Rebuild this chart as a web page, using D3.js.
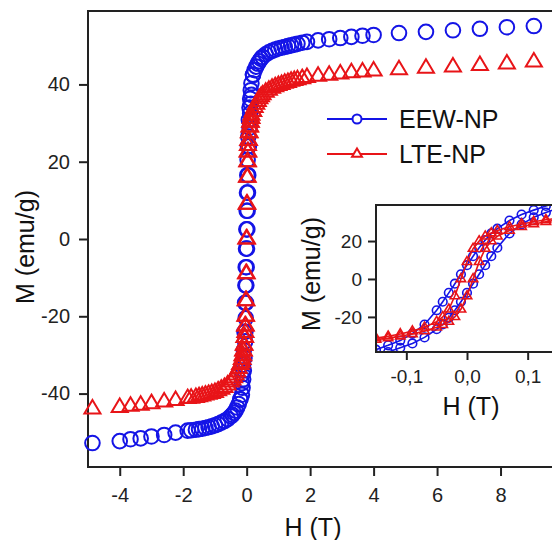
<!DOCTYPE html>
<html>
<head>
<meta charset="utf-8">
<script src="https://cdn.jsdelivr.net/npm/d3@7/dist/d3.min.js"></script>
<style>
  html, body { margin: 0; padding: 0; background: #fff; }
  svg { display: block; font-family: "Liberation Sans", Arial, sans-serif; }
</style>
</head>
<body>
<div id="chart"></div>
<script>
// data +++++++++++++++++++++++++++++++++++++++++
// field (T) of the descending branch, from +H max to -H max
const fieldDown = [9.05, 8.2, 7.35, 6.5, 5.65, 4.8, 4.0, 3.65, 3.3, 2.95, 2.6, 2.25, 1.9, 1.75, 1.6, 1.5, 1.4, 1.3, 1.2, 1.1, 1.0, 0.9, 0.8, 0.7, 0.6, 0.5, 0.45, 0.4, 0.35, 0.3, 0.25, 0.2,
  0.15, 0.13, 0.11, 0.09, 0.07, 0.05, 0.04, 0.03, 0.02, 0.01, 0, -0.01, -0.02, -0.03, -0.04, -0.05, -0.07, -0.09, -0.11, -0.13, -0.15,
  -0.2, -0.25, -0.3, -0.35, -0.4, -0.45, -0.5, -0.6, -0.7, -0.8, -0.9, -1.0, -1.1, -1.2, -1.3, -1.4, -1.5, -1.6, -1.75, -1.86, -2.24, -2.6, -3.0, -3.34, -3.66, -4.0, -4.86];
// field (T) of the ascending branch near zero
const fieldUp = [-0.2, -0.15, -0.13, -0.11, -0.09, -0.07, -0.05, -0.04, -0.03, -0.02, -0.01, 0, 0.01, 0.02, 0.03, 0.04, 0.05, 0.07, 0.09, 0.11, 0.13, 0.15, 0.2];

// magnetisation (emu/g)
const eewDown = [55.1, 54.8, 54.4, 54.0, 53.6, 53.3, 52.8, 52.6, 52.3, 52.0, 51.7, 51.4, 51.0, 50.8, 50.5, 50.3, 50.1, 49.9, 49.7, 49.5, 49.3, 49.0, 48.7, 48.3, 47.8, 47.1, 46.6, 46.0, 45.4, 44.6, 43.7, 42.5,
  40.3, 38.5, 36.3, 34.0, 30.8, 26.5, 24.0, 20.5, 16.5, 12.0, 7.3, 2.5, -2.5, -7.3, -12.0, -16.5, -24.0, -28.8, -32.5, -35.0, -37.3,
  -41.5, -42.7, -43.6, -44.4, -45.0, -45.5, -45.9, -46.6, -47.1, -47.5, -47.9, -48.2, -48.5, -48.7, -48.9, -49.1, -49.2, -49.35, -49.5, -49.6, -50.1, -50.7, -51.1, -51.6, -51.8, -52.3, -52.8];
const eewUp = [-41.5, -40.3, -38.5, -36.3, -34.0, -30.8, -26.5, -24.0, -20.5, -16.5, -12.0, -7.3, -2.5, 2.5, 7.3, 12.0, 16.5, 24.0, 28.8, 32.5, 35.0, 37.3, 42.5];

const lteDown = [45.8, 45.3, 44.9, 44.5, 44.2, 43.8, 43.5, 43.2, 43.0, 42.7, 42.4, 42.1, 41.8, 41.5, 41.2, 41.0, 40.8, 40.5, 40.3, 40.0, 39.7, 39.4, 39.0, 38.5, 38.0, 37.3, 36.8, 36.3, 35.6, 34.9, 34.0, 33.0,
  32.0, 31.2, 30.2, 29.0, 27.5, 25.5, 24.2, 22.5, 20.0, 16.0, 9.0, 0.0, -9.0, -16.0, -20.0, -22.5, -25.5, -27.5, -29.0, -30.2, -31.2,
  -32.5, -33.5, -34.4, -35.2, -35.9, -36.5, -37.0, -37.8, -38.4, -38.9, -39.3, -39.7, -40.0, -40.2, -40.4, -40.6, -40.8, -41.0, -41.2, -41.3, -41.8, -42.2, -42.6, -43.0, -43.3, -43.6, -44.0];
const lteUp = [-32.5, -32.0, -31.2, -30.2, -29.0, -27.5, -25.5, -24.2, -22.5, -20.0, -16.0, -9.0, 0.0, 9.0, 16.0, 20.0, 22.5, 25.5, 27.5, 29.0, 30.2, 31.2, 33.0];

const seriesNames = ["EEW-NP", "LTE-NP"];
const mainXTicks = [-4, -2, 0, 2, 4, 6, 8];
const mainYTicks = [-40, -20, 0, 20, 40];
const insetXTicks = [-0.1, 0, 0.1];
const insetYTicks = [-20, 0, 20];
// data -----------------------------------------

const BLUE = "#1414e6";
const RED = "#e81418";
const AXIS = "#222";

const toPoints = (hs, ms) => hs.map((h, i) => ({ h, m: ms[i] }));
const series = [
  { name: seriesNames[0], color: BLUE, shape: "circle", branches: [toPoints(fieldDown, eewDown), toPoints(fieldUp, eewUp)] },
  { name: seriesNames[1], color: RED, shape: "triangle", branches: [toPoints(fieldDown, lteDown), toPoints(fieldUp, lteUp)] }
];

// plain hyphen as minus sign, like the original figure
const dotLocale = d3.formatLocale({ decimal: ".", thousands: ",", grouping: [3], currency: ["", ""], minus: "-" });
const commaLocale = d3.formatLocale({ decimal: ",", thousands: ".", grouping: [3], currency: ["", ""], minus: "-" });
const intFmt = dotLocale.format("d");
const commaFmt = commaLocale.format(".1f");

const svg = d3.select("#chart").append("svg")
  .attr("width", 552)
  .attr("height", 540);

// marker path, centred on 0,0
function markerPath(shape, size) {
  if (shape === "circle") {
    const r = size;
    return `M${-r},0A${r},${r} 0 1,0 ${r},0A${r},${r} 0 1,0 ${-r},0Z`;
  }
  const w = size * 2.2, h = size * 1.85;
  return `M0,${-h * 2 / 3}L${w / 2},${h / 3}L${-w / 2},${h / 3}Z`;
}

function styleAxis(g, fontSize) {
  g.select(".domain").remove();
  g.selectAll(".tick line").attr("stroke", AXIS).attr("stroke-width", 2);
  g.selectAll(".tick text").attr("fill", "#222").attr("font-size", fontSize)
    .attr("font-family", "'Liberation Sans', Arial, sans-serif");
}

// main plot ++++++++++++++++++++++++++++++++++++
const main = { left: 88, top: 11, right: 564, bottom: 467 };
const x = d3.scaleLinear().domain([-5, 10]).range([main.left, main.right]);
const y = d3.scaleLinear().domain([-59, 59]).range([main.bottom, main.top]);

svg.append("g")
  .attr("transform", `translate(0,${main.bottom})`)
  .call(d3.axisBottom(x).tickValues(mainXTicks).tickSize(9).tickPadding(12).tickFormat(intFmt))
  .call(g => styleAxis(g, 20));

svg.append("g")
  .attr("transform", `translate(${main.left},0)`)
  .call(d3.axisLeft(y).tickValues(mainYTicks).tickSize(9).tickPadding(9).tickFormat(intFmt))
  .call(g => styleAxis(g, 20));

svg.append("rect")
  .attr("x", main.left).attr("y", main.top)
  .attr("width", main.right - main.left).attr("height", main.bottom - main.top)
  .attr("fill", "none").attr("stroke", AXIS).attr("stroke-width", 2);

series.forEach(s => {
  const pts = s.branches.flat();
  svg.append("g").selectAll("path")
    .data(pts)
    .enter().append("path")
    .attr("transform", d => `translate(${x(d.h)},${y(d.m)})`)
    .attr("d", markerPath(s.shape, 7.3))
    .attr("fill", "none")
    .attr("stroke", s.color)
    .attr("stroke-width", 2);
});

svg.append("text")
  .attr("x", 313).attr("y", 536)
  .attr("text-anchor", "middle")
  .attr("font-size", 25)
  .attr("fill", "#111")
  .text("H (T)");

svg.append("text")
  .attr("transform", "translate(34,247) rotate(-90)")
  .attr("text-anchor", "middle")
  .attr("font-size", 25)
  .attr("fill", "#111")
  .text("M (emu/g)");

// legend
const legend = svg.append("g");
series.forEach((s, i) => {
  const ly = 119 + i * 35;
  legend.append("line")
    .attr("x1", 327).attr("x2", 387).attr("y1", ly).attr("y2", ly)
    .attr("stroke", s.color).attr("stroke-width", 2);
  legend.append("path")
    .attr("transform", `translate(357,${ly})`)
    .attr("d", markerPath(s.shape, 4.5))
    .attr("fill", "#fff").attr("stroke", s.color).attr("stroke-width", 2);
  legend.append("text")
    .attr("x", 399).attr("y", ly + 9)
    .attr("font-size", 25)
    .attr("fill", "#111")
    .text(s.name);
});

// inset ++++++++++++++++++++++++++++++++++++++++
const inset = { left: 376, top: 205, right: 558, bottom: 352 };
const xi = d3.scaleLinear().domain([-0.15, 0.15]).range([inset.left, inset.right]);
const yi = d3.scaleLinear().domain([-38.5, 39]).range([inset.bottom, inset.top]);

svg.append("rect")
  .attr("x", inset.left).attr("y", inset.top)
  .attr("width", inset.right - inset.left).attr("height", inset.bottom - inset.top)
  .attr("fill", "#fff");

svg.append("defs").append("clipPath").attr("id", "inset-clip")
  .append("rect")
  .attr("x", inset.left).attr("y", inset.top)
  .attr("width", inset.right - inset.left).attr("height", inset.bottom - inset.top);

const insetData = svg.append("g").attr("clip-path", "url(#inset-clip)");
const line = d3.line().x(d => xi(d.h)).y(d => yi(d.m));

series.forEach(s => {
  const g = insetData.append("g");
  s.branches.forEach(b => {
    g.append("path")
      .attr("d", line(b))
      .attr("fill", "none")
      .attr("stroke", s.color)
      .attr("stroke-width", 1.6);
  });
  g.selectAll(".mk")
    .data(s.branches.flat().filter(d => Math.abs(d.h) <= 0.17))
    .enter().append("path")
    .attr("transform", d => `translate(${xi(d.h)},${yi(d.m)})`)
    .attr("d", markerPath(s.shape, 4.3))
    .attr("fill", "none")
    .attr("stroke", s.color)
    .attr("stroke-width", 1.6);
});

svg.append("g")
  .attr("transform", `translate(0,${inset.bottom})`)
  .call(d3.axisBottom(xi).tickValues(insetXTicks).tickSize(8).tickPadding(10).tickFormat(commaFmt))
  .call(g => styleAxis(g, 19));

svg.append("g")
  .attr("transform", `translate(${inset.left},0)`)
  .call(d3.axisLeft(yi).tickValues(insetYTicks).tickSize(8).tickPadding(6).tickFormat(intFmt))
  .call(g => styleAxis(g, 19));

svg.append("rect")
  .attr("x", inset.left).attr("y", inset.top)
  .attr("width", inset.right - inset.left).attr("height", inset.bottom - inset.top)
  .attr("fill", "none").attr("stroke", AXIS).attr("stroke-width", 2);

svg.append("text")
  .attr("x", 471).attr("y", 415)
  .attr("text-anchor", "middle")
  .attr("font-size", 25)
  .attr("fill", "#111")
  .text("H (T)");

svg.append("text")
  .attr("transform", "translate(320,274) rotate(-90)")
  .attr("text-anchor", "middle")
  .attr("font-size", 25)
  .attr("fill", "#111")
  .text("M (emu/g)");
</script>
</body>
</html>
